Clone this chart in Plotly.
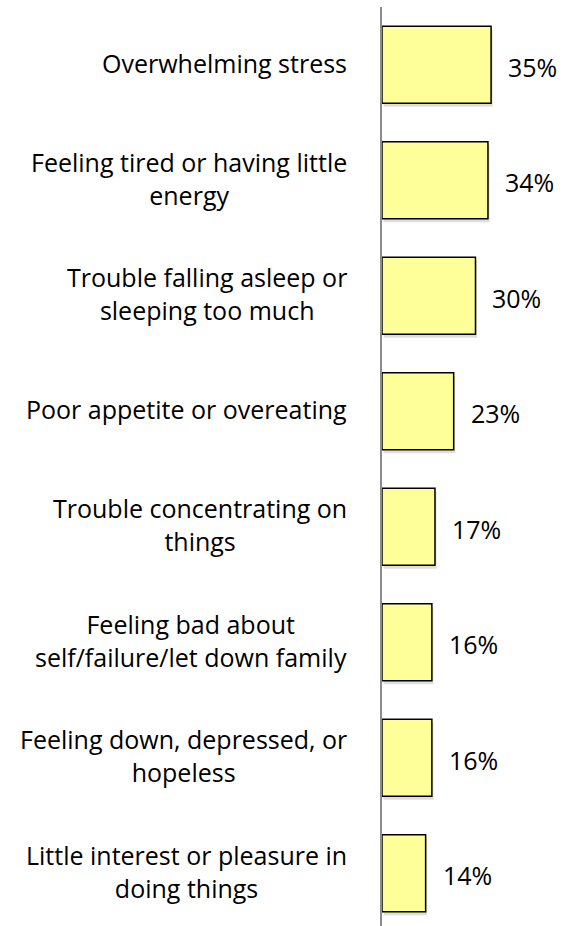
import plotly.graph_objects as go

categories = [
    "Overwhelming stress",
    "Feeling tired or having little<br>energy",
    "Trouble falling asleep or<br>sleeping too much",
    "Poor appetite or overeating",
    "Trouble concentrating on<br>things",
    "Feeling bad about<br>self/failure/let down family",
    "Feeling down, depressed, or<br>hopeless",
    "Little interest or pleasure in<br>doing things",
]
values = [35, 34, 30, 23, 17, 16, 16, 14]
value_labels = [f"{v}%" for v in values]

FONT = "Open Sans"
ids = list(range(len(categories)))

fig = go.Figure()
# soft shadow
fig.add_trace(go.Bar(
    y=ids, x=values, base=0.5, orientation="h",
    width=0.667, offset=-0.333 + 0.03,
    marker=dict(color="rgba(0,0,0,0.13)", line=dict(width=0)),
    hoverinfo="skip", showlegend=False,
))
fig.add_trace(go.Bar(
    y=ids, x=values, orientation="h",
    width=0.667, offset=-0.333,
    marker=dict(color="#FFFF99", line=dict(color="black", width=1.5)),
    showlegend=False,
))

annotations = []
for i, (c, v, t) in enumerate(zip(categories, values, value_labels)):
    annotations.append(dict(
        x=-0.18, y=i, xref="paper", yref="y", text=c, showarrow=False,
        xanchor="right", yanchor="middle", align="center", yshift=2,
        font=dict(family=FONT, size=25, color="black"),
    ))
    annotations.append(dict(
        x=v, y=i, xref="x", yref="y", text=t, showarrow=False,
        xanchor="left", yanchor="middle", xshift=15, yshift=-2,
        font=dict(family=FONT, size=25, color="black"),
    ))

fig.update_layout(
    width=564, height=926,
    margin=dict(l=382, r=0, t=7, b=0),
    paper_bgcolor="white", plot_bgcolor="white",
    barmode="overlay",
    annotations=annotations,
    xaxis=dict(range=[0, 58.4], showgrid=False, zeroline=False,
               showticklabels=False, showline=False),
    yaxis=dict(range=[7.457, -0.5], showgrid=False, zeroline=False,
               showticklabels=False, ticks="", showline=True,
               linecolor="#8c8c8c", linewidth=1.5),
)

fig.write_html("out.html", config={"displayModeBar": False},
               post_script="document.body.style.margin='0';")
